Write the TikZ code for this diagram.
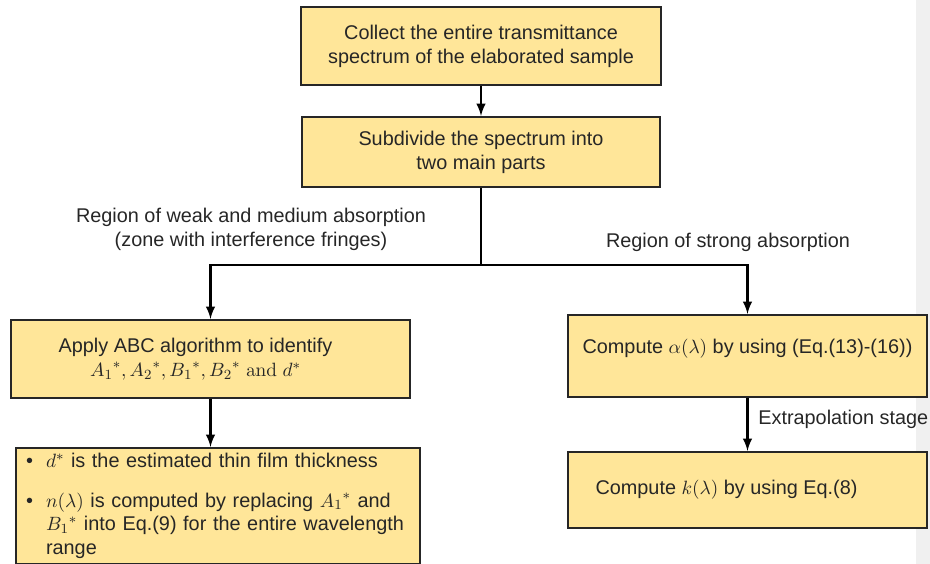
\documentclass[tikz,border=0pt]{standalone}
\usepackage[no-math]{fontspec}
\setmainfont{Liberation Sans}
\usepackage{amsmath}
\usetikzlibrary{arrows,positioning,calc}
\definecolor{boxfill}{HTML}{FFE699}
\definecolor{stripgray}{HTML}{F0F0F0}
\tikzset{
  stepbox/.style={shape=rectangle,draw=black!85,line width=1.2pt,fill=boxfill,text=black!85,inner sep=0pt},
  flow/.style={arrows=-latex,line width=1.4pt},
  note/.style={text=black!85,align=center},
}
\newcommand{\itm}{\makebox[0.4cm][l]{\textbullet}}
\newcommand{\ind}{\hspace*{0.4cm}}

\begin{document}
\begin{tikzpicture}[x=0.02cm,y=-0.02cm,font=\fontsize{11.3}{13.6}\selectfont]
\useasboundingbox (0,0) rectangle (930,564);
\fill[stripgray] (916,0) rectangle (930,564);

\node[stepbox,minimum width=7.2cm,minimum height=1.56cm,align=center] (collect) at (481,46) {Collect the entire transmittance\\spectrum of the elaborated sample};
\node[stepbox,minimum width=7.16cm,minimum height=1.4cm,align=center] (subdiv) at (481,152) {Subdivide the spectrum into\\two main parts};
\node[stepbox,minimum width=7.98cm,minimum height=1.56cm,align=center] (abc) at (210.5,359) {Apply ABC algorithm to identify\hspace*{0.6cm}\\${A_1}^*,{A_2}^*,{B_1}^*,{B_2}^*\ \mathrm{and}\ d^*$\hspace*{0.6cm}};
\node[stepbox,minimum width=8.08cm,minimum height=2.32cm,text width=7.68cm,align=left] (thick) at (218,506) {\itm$d^*$ is the estimated thin film thickness\\[9pt]
\itm$n(\lambda)$ is computed by replacing ${A_1}^*$ and\\
\ind${B_1}^*$ into Eq.(9) for the entire wavelength\\
\ind range};
\node[stepbox,minimum width=7.18cm,minimum height=1.64cm,align=center] (alpha) at (747.5,356) {Compute $\alpha(\lambda)$ by using (Eq.(13)-(16))\\[-3pt]\mbox{}};
\node[stepbox,minimum width=7.18cm,minimum height=1.52cm] (kbox) at (747.5,490) {Compute $k(\lambda)$ by using Eq.(8)\hspace*{0.84cm}};

% branch labels
\node[note] (weak) at (251,229) {Region of weak and medium absorption\\(zone with interference fringes)};
\node[note] (strong) at (728,242) {Region of strong absorption};
\node[note,anchor=west,inner sep=0pt] (extra) at (758,419) {Extrapolation stage};

\coordinate (split) at (481,265);
\draw[flow] (collect) -- (subdiv);
\draw[line width=1.4pt] (subdiv) -- (split);
\draw[flow] (split) -| (abc);
\draw[flow] (split) -| (alpha);
\draw[flow] (abc) -- (abc |- thick.north);
\draw[flow] (alpha) -- (kbox);
\end{tikzpicture}
\end{document}
